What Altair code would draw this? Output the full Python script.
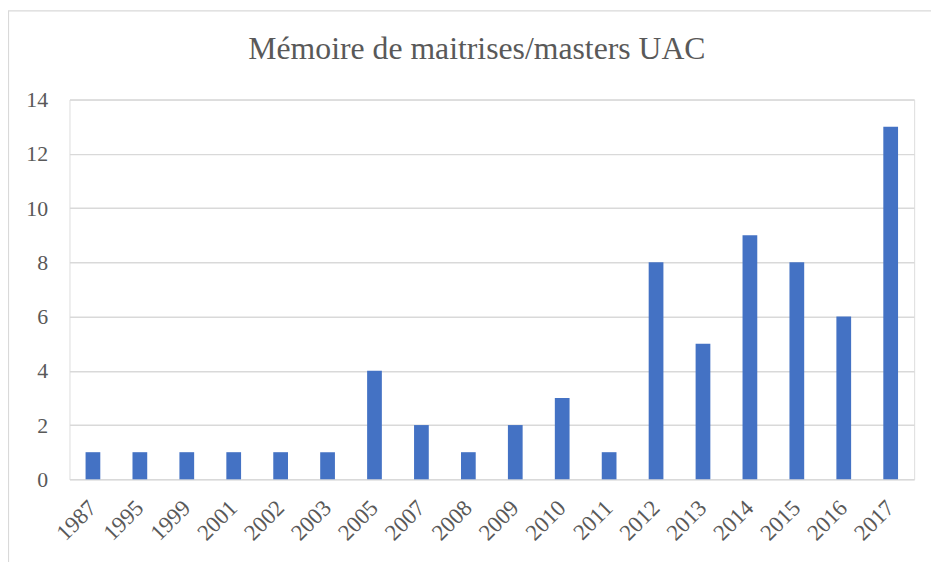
import altair as alt
import pandas as pd

years = ["1987", "1995", "1999", "2001", "2002", "2003", "2005", "2007", "2008",
         "2009", "2010", "2011", "2012", "2013", "2014", "2015", "2016", "2017"]
counts = [1, 1, 1, 1, 1, 1, 4, 2, 1, 2, 3, 1, 8, 5, 9, 8, 6, 13]
y_ticks = [0, 2, 4, 6, 8, 10, 12, 14]
title_text = "Mémoire de maitrises/masters UAC"

df = pd.DataFrame({"Année": years, "Nombre": counts})

FONT = "Liberation Serif"
GREY = "#595959"

bars = alt.Chart(df).mark_bar(color="#4472C4").encode(
    x=alt.X("Année:N", sort=years,
            scale=alt.Scale(paddingInner=0.686, paddingOuter=0.343),
            axis=alt.Axis(title=None, labelAngle=-45, labelAlign="right",
                          labelBaseline="middle", labelFont=FONT, labelFontSize=23,
                          labelColor=GREY, ticks=False, domain=False,
                          labelPadding=25, grid=False)),
    y=alt.Y("Nombre:Q", scale=alt.Scale(domain=[0, 14], nice=False),
            axis=alt.Axis(title=None, values=y_ticks, labelFont=FONT,
                          labelFontSize=22, labelColor=GREY, ticks=False,
                          domain=False, labelPadding=22, grid=True,
                          gridColor="#d9d9d9", gridWidth=1.5)),
)

frame = alt.Chart(pd.DataFrame({"f": [0]})).mark_rect(
    fill="transparent", stroke="#d9d9d9", strokeWidth=1.2
).encode(
    x=alt.value(-61.5), x2=alt.value(900), y=alt.value(-89.5), y2=alt.value(520)
)

title = alt.Chart(pd.DataFrame({"t": [title_text]})).mark_text(
    font=FONT, fontSize=32, color=GREY, align="center", baseline="alphabetic"
).encode(text="t:N", x=alt.value(411), y=alt.value(-41))

chart = alt.layer(frame, bars, title).properties(
    width=852, height=383,
    autosize=alt.AutoSizeParams(type="none"),
    padding={"left": 62, "top": 90, "right": 17, "bottom": 81},
).configure_view(stroke=None).configure(background="white")

chart.save("out.html", embed_options={"renderer": "svg", "actions": False})
